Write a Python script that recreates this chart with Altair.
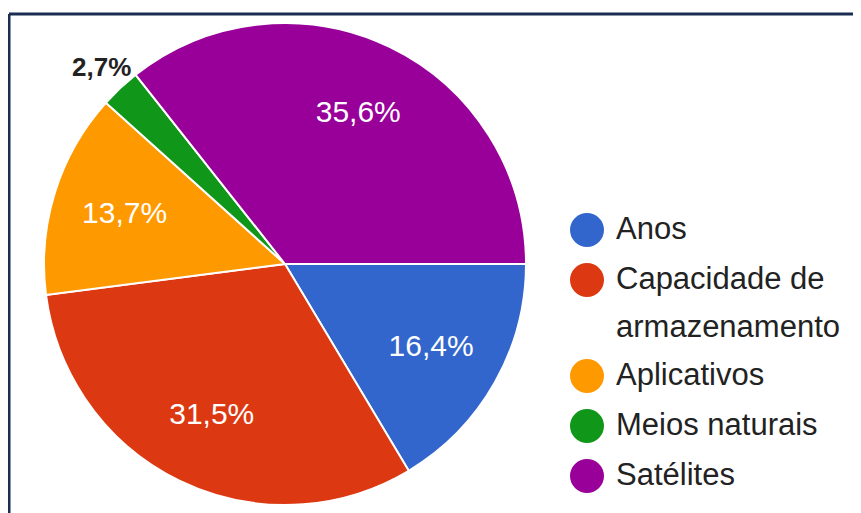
import math
import altair as alt
import pandas as pd

categories = ["Anos", "Capacidade de armazenamento", "Aplicativos", "Meios naturais", "Satélites"]
values = [16.4, 31.5, 13.7, 2.7, 35.6]
colors = ["#3366CC", "#DC3912", "#FF9900", "#109618", "#990099"]

labels = [f"{v:.1f}%".replace(".", ",") for v in values]
df = pd.DataFrame({
    "categoria": categories,
    "valor": values,
    "rotulo": labels,
    "ordem": list(range(len(categories))),
})

FONT = "Arial, Liberation Sans, sans-serif"
W, H = 844, 499
CX, CY, R = 276, 250, 241

theta = alt.Theta("valor:Q", stack=True,
                  scale=alt.Scale(range=[math.pi / 2, math.pi / 2 + 2 * math.pi]))
order = alt.Order("ordem:Q", sort="ascending")

base = alt.Chart(df).encode(theta=theta, order=order,
                            x=alt.value(CX), y=alt.value(CY))

pie = base.mark_arc(outerRadius=R, stroke="white", strokeWidth=2).encode(
    color=alt.Color(
        "categoria:N",
        scale=alt.Scale(domain=categories, range=colors),
        sort=categories,
        legend=alt.Legend(
            title=None, orient="none", legendX=561, legendY=199,
            symbolType="circle", symbolSize=1156, symbolStrokeWidth=0,
            labelFontSize=31, labelFont=FONT, labelColor="#222222",
            labelOffset=12, rowPadding=16, labelLimit=0, padding=0,
            labelExpr="datum.label == 'Capacidade de armazenamento' ? ['Capacidade de', 'armazenamento'] : datum.label",
        ),
    )
)

inner = base.transform_calculate(
    txt="datum.valor >= 5 ? datum.rotulo : ''"
).mark_text(radius=168, fontSize=30, font=FONT, color="white").encode(text="txt:N")

outer = base.transform_calculate(
    txt="datum.valor < 5 ? datum.rotulo : ''"
).mark_text(radius=268, fontSize=26, font=FONT, fontWeight="bold",
            color="#222222").encode(text="txt:N")

chart = alt.layer(pie, inner, outer).properties(
    width=W, height=H, autosize="none",
    padding={"left": 1, "top": 6, "right": 0, "bottom": 0},
    background="white",
).configure(
    style={"guide-label": {"lineHeight": 48}},
    # frame drawn only on the top and left edges, as in the cropped original
    view={"stroke": "#1b2d50", "strokeWidth": 3,
          "strokeDash": [W, H + W, H, 0]},
)

chart.save("out.html", embed_options={"renderer": "svg", "actions": False})
